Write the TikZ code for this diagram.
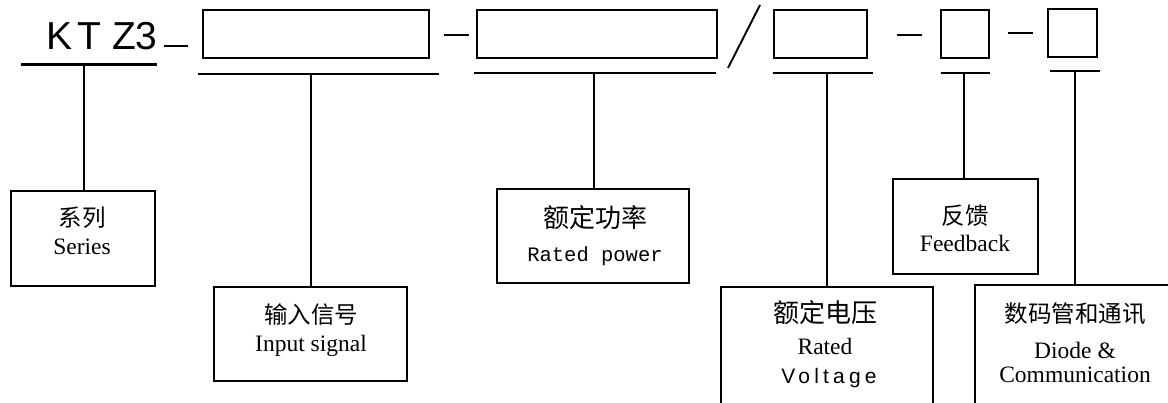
\documentclass[tikz,border=0pt]{standalone}
\usepackage{fontspec}
\setmainfont{Liberation Serif}
\newfontfamily\cjkf{Noto Sans CJK SC}
\newfontfamily\arialf{Liberation Sans}
\newfontfamily\monof{Liberation Mono}
\newfontfamily\voltf[LetterSpace=20]{Liberation Sans}
\begin{document}
\begin{tikzpicture}[x=1pt,y=-1pt,
  tbox/.style={draw, line width=1.9pt, inner sep=0pt},
  lbl/.style={inner sep=0pt},
  conn/.style={line width=1.9pt},
  thick bar/.style={line width=3pt},
  song/.style={font=\cjkf\fontsize{23.5}{24}\selectfont},
  hei/.style={font=\cjkf\fontsize{26}{26}\selectfont},
  roman/.style={font=\fontsize{23.5}{24}\selectfont, anchor=base}]
\useasboundingbox (0,0) rectangle (1168,403);
\clip (0,0) rectangle (1168,403);

% title
\node[lbl, anchor=base west, font=\arialf\fontsize{39}{39}\selectfont] (ktz) at (46,50) {K\hspace{5pt}T\hspace{11pt}Z3};

% top boxes
\node[tbox, minimum width=226pt, minimum height=48pt] (b1) at (316,34) {};
\node[tbox, minimum width=240pt, minimum height=48pt] (b2) at (596.7,34) {};
\node[tbox, minimum width=92.7pt, minimum height=48pt] (b3) at (820.3,34) {};
\node[tbox, minimum width=48.6pt, minimum height=48pt] (b4) at (965,34) {};
\node[tbox, minimum width=49pt, minimum height=48pt] (b5) at (1072.5,33) {};

% dashes and slash
\coordinate (d1a) at (164,46);  \coordinate (d1b) at (188,46);
\coordinate (d2a) at (444,35);  \coordinate (d2b) at (469,35);
\coordinate (d3a) at (897,35);  \coordinate (d3b) at (922,35);
\coordinate (d4a) at (1008,33); \coordinate (d4b) at (1033,33);
\coordinate (sla) at (728,68);  \coordinate (slb) at (760,5);
\draw[conn] (d1a) -- (d1b);
\draw[conn] (d2a) -- (d2b);
\draw[conn] (d3a) -- (d3b);
\draw[conn] (d4a) -- (d4b);
\draw[conn] (sla) -- (slb);

% underlines
\coordinate (u0l) at (21,65);   \coordinate (u0r) at (157,65);  \coordinate (u0) at (84,65);
\coordinate (u1l) at (198,74);  \coordinate (u1r) at (439,74);  \coordinate (u1) at (311,74);
\coordinate (u2l) at (474,73);  \coordinate (u2r) at (716,73);  \coordinate (u2) at (594,73);
\coordinate (u3l) at (773,73);  \coordinate (u3r) at (873,73);  \coordinate (u3) at (826.7,73);
\coordinate (u4l) at (940.7,73);\coordinate (u4r) at (990,73);  \coordinate (u4) at (964.3,73);
\coordinate (u5l) at (1050,71); \coordinate (u5r) at (1100,71); \coordinate (u5) at (1075,71);
\draw[thick bar] (u0l) -- (u0r);
\draw[conn] (u1l) -- (u1r);
\draw[conn] (u2l) -- (u2r);
\draw[conn] (u3l) -- (u3r);
\draw[conn] (u4l) -- (u4r);
\draw[conn] (u5l) -- (u5r);

% bottom boxes
\node[tbox, minimum width=144pt, minimum height=95pt] (series) at (83,238.5) {};
\node[tbox, minimum width=193pt, minimum height=94pt] (input) at (310.5,334) {};
\node[tbox, minimum width=192pt, minimum height=94pt] (power) at (593,236) {};
\node[tbox, minimum width=145pt, minimum height=95pt] (fb) at (965.5,226.5) {};
\node[tbox, minimum width=212pt, minimum height=140pt] (volt) at (826.7,357) {};
\node[tbox, minimum width=200pt, minimum height=140pt] (diode) at (1075,355) {};

% connectors
\draw[conn] (u0) -- (u0 |- series.north);
\draw[conn] (u1) -- (u1 |- input.north);
\draw[conn] (u2) -- (u2 |- power.north);
\draw[conn] (u3) -- (u3 |- volt.north);
\draw[conn] (u4) -- (u4 |- fb.north);
\draw[conn] (u5) -- (u5 |- diode.north);

% labels
\node[lbl, song] (t1a) at (82,218) {系列};
\node[lbl, roman] (t1b) at (82,255) {Series};
\node[lbl, song] (t2a) at (311,315) {输入信号};
\node[lbl, roman] (t2b) at (311,352) {Input signal};
\node[lbl, hei] (t3a) at (595,217.5) {额定功率};
\node[lbl, anchor=base, font=\monof\fontsize{20.5}{21}\selectfont] (t3b) at (595,262) {Rated power};
\node[lbl, song] (t4a) at (965,216) {反馈};
\node[lbl, roman] (t4b) at (965,252) {Feedback};
\node[lbl, hei] (t5a) at (825,313) {额定电压};
\node[lbl, roman] (t5b) at (825,355) {Rated};
\node[lbl, anchor=base, font=\voltf\fontsize{21}{21}\selectfont] (t5c) at (829,384) {Voltage};
\node[lbl, song] (t6a) at (1075,314) {数码管和通讯};
\node[lbl, roman] (t6b) at (1075,359) {Diode \&};
\node[lbl, roman] (t6c) at (1075,383) {Communication};
\end{tikzpicture}
\end{document}
